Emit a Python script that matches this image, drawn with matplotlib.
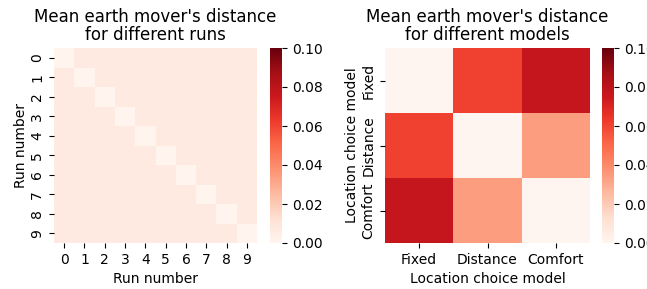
import numpy as np
import matplotlib
matplotlib.use("Agg")
import matplotlib.pyplot as plt
import seaborn as sns

runs = list(range(10))
run_diag = 0.001
run_off = 0.007
models = ["Fixed", "Distance", "Comfort"]
model_vals = [[0.0, 0.061, 0.077],
              [0.061, 0.0, 0.034],
              [0.077, 0.034, 0.0]]

run_mat = np.full((len(runs), len(runs)), run_off)
np.fill_diagonal(run_mat, run_diag)
model_mat = np.array(model_vals)

W, H = 647, 289
fig = plt.figure(figsize=(W / 100, H / 100), dpi=100)

def pos(x0, y0, x1, y1):
    return [x0 / W, 1 - y1 / H, (x1 - x0) / W, (y1 - y0) / H]

ax1 = fig.add_axes(pos(54, 48, 257, 243))
cax1 = fig.add_axes(pos(270, 48, 282, 243))
ax2 = fig.add_axes(pos(385, 48, 590, 243))
cax2 = fig.add_axes(pos(602, 48, 614, 243))

sns.heatmap(run_mat, ax=ax1, cbar_ax=cax1, cmap="Reds", vmin=0, vmax=0.1,
            xticklabels=runs, yticklabels=runs)
sns.heatmap(model_mat, ax=ax2, cbar_ax=cax2, cmap="Reds", vmin=0, vmax=0.1,
            xticklabels=models, yticklabels=models)

fs = 10
for ax, title, lab in [(ax1, "Mean earth mover's distance\nfor different runs", "Run number"),
                       (ax2, "Mean earth mover's distance\nfor different models", "Location choice model")]:
    ax.set_title(title, fontsize=12, linespacing=1.0)
    ax.set_xlabel(lab, fontsize=fs)
    ax.set_ylabel(lab, fontsize=fs, labelpad=2)
    ax.tick_params(labelsize=fs)
    for t in ax.get_xticklabels():
        t.set_rotation(0)
    for t in ax.get_yticklabels():
        t.set_rotation(90)
        t.set_va("center")

for cax in (cax1, cax2):
    cax.tick_params(labelsize=fs)
    cax.set_yticks([0, 0.02, 0.04, 0.06, 0.08, 0.1])
    cax.set_yticklabels(["0.00", "0.02", "0.04", "0.06", "0.08", "0.10"])

fig.savefig("out.png", dpi=100)
